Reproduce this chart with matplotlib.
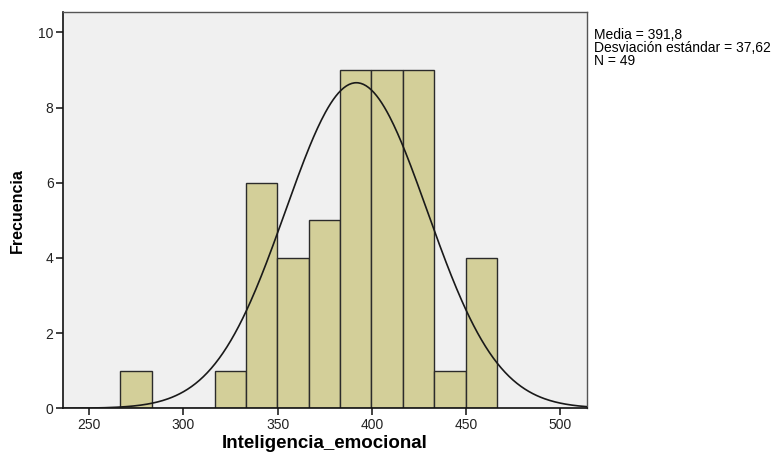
import numpy as np
import matplotlib.pyplot as plt

plt.rcParams['font.family'] = ['Liberation Sans', 'DejaVu Sans']

# histogram data
bin_edges = [266.5, 283.17, 299.83, 316.5, 333.17, 349.83, 366.5,
             383.17, 399.83, 416.5, 433.17, 449.83, 466.5]
counts = [1, 0, 0, 1, 6, 4, 5, 9, 9, 9, 1, 4]
mean = 391.8
std = 37.62
n = 49

fig = plt.figure(figsize=(7.71, 4.55), dpi=100)
ax = fig.add_axes([63.3 / 771, 1 - 408.3 / 455, (586.7 - 63.3) / 771, (408.3 - 11.7) / 455])
ax.set_facecolor('#f0f0f0')

edges = np.array(bin_edges)
widths = np.diff(edges)
ax.bar(edges[:-1], counts, width=widths, align='edge', color='#d3cf99',
       edgecolor='#2b2b2b', linewidth=1.0, zorder=2)

# fitted normal curve scaled to counts
bw = widths.mean()
xs = np.linspace(236, 514, 400)
ys = n * bw * np.exp(-0.5 * ((xs - mean) / std) ** 2) / (std * np.sqrt(2 * np.pi))
ax.plot(xs, ys, color='#1a1a1a', linewidth=1.2, zorder=3)

ax.set_xlim(236.2, 514.1)
ax.set_ylim(0, 10.55)
ax.set_xticks([250, 300, 350, 400, 450, 500])
ax.set_yticks([0, 2, 4, 6, 8, 10])
ax.tick_params(axis='both', direction='out', length=5, width=1.2, labelsize=10,
               colors='#222222', pad=2)
for s in ['left', 'bottom']:
    ax.spines[s].set_color('#111111')
    ax.spines[s].set_linewidth(1.2)
for s in ['top', 'right']:
    ax.spines[s].set_color('#555555')
    ax.spines[s].set_linewidth(1.0)

fig.text(325 / 771, 1 - 444 / 455, 'Inteligencia_emocional', fontsize=13.5,
         fontweight='bold', ha='center', va='center')
fig.text(17 / 771, 1 - 211 / 455, 'Frecuencia', fontsize=11.5,
         fontweight='bold', ha='center', va='center', rotation=90)

fig.text(594 / 771, 1 - 48 / 455,
         'Media = 391,8\nDesviación estándar = 37,62\nN = 49',
         fontsize=10, va='center', ha='left', linespacing=0.9)

fig.savefig('out.png', dpi=100)
